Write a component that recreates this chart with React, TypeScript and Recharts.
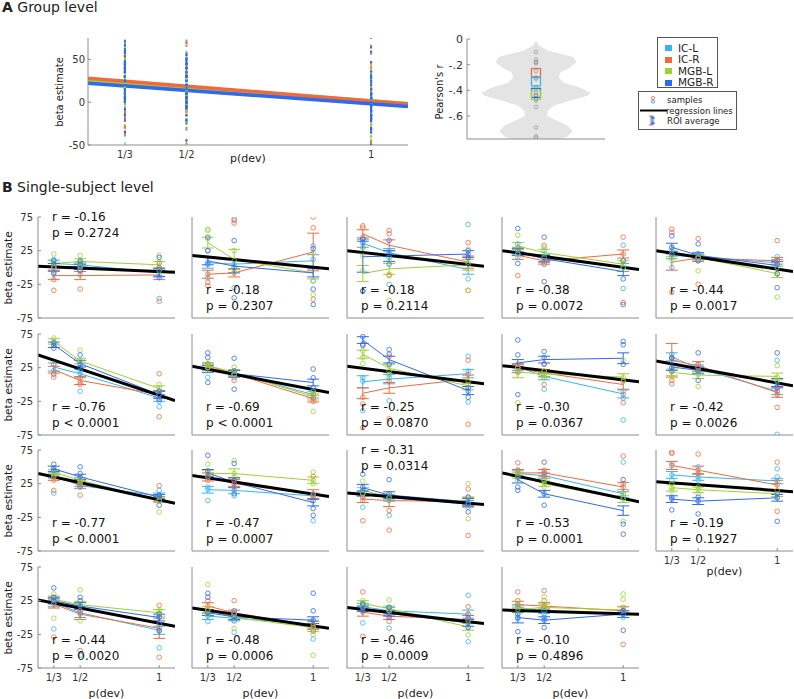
import React from 'react';
import { ComposedChart, Scatter, Line, Area, XAxis, YAxis, ErrorBar } from 'recharts';

const FONT = '"DejaVu Sans", Verdana, sans-serif';
const AXIS = '#8c8c8c';
const TICK_TXT = '#333';

const REGIONS = ['IC-L', 'IC-R', 'MGB-L', 'MGB-R'];
const COLORS = ['#35b5f2', '#f26a3b', '#9fd132', '#2e69ef'];
const P_DEV = [1 / 3, 1 / 2, 1];
const P_DEV_LABELS = ['1/3', '1/2', '1'];
const X_DOMAIN: [number, number] = [0.2333, 1.1];
const Y_TICKS = [-75, -25, 25, 75];
const A_Y_TICKS = [-50, 0, 50];

// group level regression lines (value at left / right edge of the x range)
const A_REG_ICL = [23, -4];
const A_REG_ICR = [28, -2];
const A_REG_MGBL = [26, -1.5];
const A_REG_MGBR = [22, -5];

// violin of single-subject correlations
const SUBJECT_R = [-0.16, -0.18, -0.18, -0.38, -0.44, -0.76, -0.69, -0.25, -0.30, -0.42, -0.77, -0.47, -0.31, -0.53, -0.19, -0.44, -0.48, -0.46, -0.10];
const ROI_R = [-0.33, -0.265, -0.435, -0.42];
const VIOLIN_R = [-0.01, -0.05, -0.09, -0.14, -0.18, -0.22, -0.26, -0.30, -0.34, -0.38, -0.42, -0.44, -0.48, -0.52, -0.56, -0.60, -0.64, -0.68, -0.72, -0.76, -0.78];
const VIOLIN_W = [0, 3, 12, 38, 41, 35, 25, 23, 28, 45, 55, 53, 35, 18, 12, 11, 22, 33, 37, 32, 25];
const R_TICKS = [0, -0.2, -0.4, -0.6];
const R_TICK_LABELS = ['0', '-.2', '-.4', '-.6'];

// single subjects
const R_TEXT = ['-0.16', '-0.18', '-0.18', '-0.38', '-0.44', '-0.76', '-0.69', '-0.25', '-0.30', '-0.42', '-0.77', '-0.47', '-0.31', '-0.53', '-0.19', '-0.44', '-0.48', '-0.46', '-0.10'];
const P_TEXT = ['= 0.2724', '= 0.2307', '= 0.2114', '= 0.0072', '= 0.0017', '< 0.0001', '< 0.0001', '= 0.0870', '= 0.0367', '= 0.0026', '< 0.0001', '= 0.0007', '= 0.0314', '= 0.0001', '= 0.1927', '= 0.0020', '= 0.0006', '= 0.0009', '= 0.4896'];
const TOP_TEXT = [0, 12];

const REG_LINES = [[2, -7], [18, -2], [25, 2], [25, -3], [25, -6], [44, -24], [27, -12], [27, 1], [28, 4], [35, -2], [40, -4], [37, 6], [11, -6], [41, -2], [28, 13], [26, -13], [14, -16], [15, -9], [11, 5]];

const MEAN_ICL = [[6, 4, -8], [7, 5, 10], [36, 22, -3], [25, 14, 0], [18, 16, 7], [26, 16, -20], [25, 17, -15], [4, 8, 16], [26, 12, -14], [41, 24, -10], [37, 22, 7], [16, 15, 7], [10, 4, -5], [40, 37, 10], [38, 35, 29], [22, 7, -19], [2, -1, -10], [16, 10, 5], [15, 10, 5]];
const MEAN_ICR = [[-12, -12, -11], [-10, -8, 23], [50, 33, 8], [18, 10, 20], [8, 14, 10], [22, 6, -15], [28, 16, -21], [-13, -5, 8], [24, 17, 0], [36, 28, -12], [34, 25, 2], [35, 25, 9], [2, 0, -2], [41, 41, 20], [52, 45, 23], [20, 5, -16], [17, 7, -12], [8, 2, -3], [19, 17, 10]];
const MEAN_MGBL = [[6, 9, 4], [37, 12, -8], [-9, -2, 4], [32, 22, 5], [20, 15, -9], [64, 35, -6], [28, 18, -18], [45, 24, -2], [18, 16, 11], [18, 14, 12], [42, 30, 1], [40, 40, 30], [15, 5, -1], [37, 25, 2], [19, 16, 10], [27, 19, 7], [11, 0, -15], [21, 13, -14], [12, 15, 11]];
const MEAN_MGBR = [[1, 1, -7], [10, 2, -8], [16, 17, 20], [23, 13, -6], [30, 18, 3], [59, 31, -15], [23, 16, 3], [66, 37, -9], [32, 37, 39], [26, 21, 3], [47, 35, 5], [41, 27, -3], [19, 8, -2], [31, 10, -15], [2, -1, 4], [25, 17, 0], [7, 1, -4], [13, 6, -8], [0, -4, 5]];

const ERR_ICL = [[5, 4, 6], [8, 7, 9], [6, 6, 7], [5, 5, 6], [5, 4, 5], [6, 6, 5], [4, 4, 5], [9, 7, 6], [5, 5, 6], [6, 5, 5], [4, 4, 4], [5, 5, 4], [4, 5, 5], [4, 4, 6], [5, 5, 4], [6, 7, 6], [5, 4, 6], [5, 5, 6], [4, 4, 5]];
const ERR_ICR = [[6, 6, 7], [6, 6, 28], [6, 8, 9], [6, 5, 6], [12, 5, 5], [5, 6, 6], [4, 5, 5], [8, 8, 6], [6, 5, 7], [25, 6, 7], [4, 4, 4], [6, 6, 7], [5, 9, 7], [5, 5, 7], [6, 6, 7], [6, 8, 15], [5, 4, 6], [6, 5, 6], [5, 5, 6]];
const ERR_MGBL = [[4, 4, 5], [8, 15, 9], [12, 8, 8], [5, 5, 5], [4, 4, 6], [4, 4, 4], [4, 4, 5], [6, 6, 6], [8, 5, 5], [5, 5, 5], [4, 4, 4], [5, 7, 5], [4, 4, 5], [4, 4, 5], [5, 4, 4], [5, 5, 5], [5, 4, 6], [4, 4, 5], [5, 5, 5]];
const ERR_MGBR = [[5, 4, 6], [6, 10, 6], [23, 8, 5], [5, 5, 6], [6, 4, 6], [4, 5, 5], [5, 5, 5], [5, 5, 6], [5, 5, 8], [5, 5, 6], [4, 4, 4], [5, 7, 5], [5, 5, 5], [5, 5, 7], [5, 5, 5], [5, 5, 5], [4, 4, 5], [4, 4, 5], [8, 5, 5]];

const SAMPLES_ICL = [
  [[12, 0, -10], [8, -3, 3], [-46, 0, -12]],
  [[25, -15, 8], [72, -30, 5], [32, 12, -20]],
  [[42, 30, -35], [25, 15, -25], [64, -17, 5]],
  [[35, 20, 15], [25, 10, 5], [33, -31, 0]],
  [[0, 25, 15], [20, 10, 15], [16, 5, 10]],
  [[21, 30, 15], [-10, 16, 20], [-33, -25, -15]],
  [[11, 25, 30], [20, 15, 10], [-15, -10, -20]],
  [[-39, 10, 5], [-24, 10, 15], [42, -26, 20]],
  [[30, 20, 25], [-7, 15, 10], [-53, -20, -10]],
  [[45, 35, 40], [30, 20, 25], [36, -74, -10]],
  [[11, 40, 35], [20, 25, 22], [15, 5, 8]],
  [[0, 16, 20], [7, 15, 20], [-30, 7, 10]],
  [[-10, 10, 5], [-22, 4, 0], [-5, -10, 0]],
  [[40, 35, 45], [37, 40, 30], [57, 10, 5]],
  [[55, 38, 30], [50, 35, 30], [47, 29, 35]],
  [[-17, 22, 25], [-56, 7, 10], [-45, -19, -10]],
  [[-6, 2, 5], [-22, -1, 5], [-32, -10, -20]],
  [[-8, 16, 20], [-16, 10, 15], [33, -36, 5]],
  [[-2, 15, 20], [10, 15, 5], [5, 0, 10]],
];
const SAMPLES_ICR = [
  [[-34, -18, 2], [-32, -10, 0], [-50, 0, 6]],
  [[-27, -22, -10], [70, 66, -8], [75, 59, -47]],
  [[62, 59, 45], [55, 50, -12], [37, -34, 15]],
  [[-12, 25, 30], [33, 10, 5], [45, -52, 20]],
  [[57, 52, -37], [43, -25, 15], [40, 10, 12]],
  [[11, 16, 30], [3, 10, 0], [16, -48, -15]],
  [[31, 28, 25], [6, 20, 15], [-20, -25, -15]],
  [[-19, -29, -64], [41, -51, 5], [36, -59, 15]],
  [[18, 30, 25], [31, 0, 20], [-27, -15, 5]],
  [[6, 1, 40], [30, 25, 20], [-34, -15, -10]],
  [[15, 35, 30], [8, 25, 20], [22, 0, 5]],
  [[30, 35, 38], [25, 30, 20], [36, 9, 5]],
  [[-30, 5, 0], [-44, -15, 5], [-52, 17, -5]],
  [[56, 45, 40], [41, 45, 35], [66, 20, 25]],
  [[72, 70, 52], [69, 45, 40], [57, -16, 23]],
  [[-29, 20, 30], [-49, 5, 10], [18, -59, -16]],
  [[25, 17, 10], [25, 7, 5], [-12, -20, -15]],
  [[38, -28, 8], [-6, 2, 10], [16, -3, 5]],
  [[38, 25, 19], [40, 17, 25], [-40, 10, 15]],
];
const SAMPLES_MGBL = [
  [[20, 10, 0], [18, 8, 2], [18, 8, -5]],
  [[57, 55, 43], [25, -7, 10], [22, -40, -20]],
  [[30, 17, -5], [-49, 10, -10], [27, -34, 8]],
  [[48, 30, 20], [30, 15, 20], [10, 0, 5]],
  [[30, 10, 20], [-5, 20, 15], [-44, -10, 0]],
  [[69, 60, 64], [51, 35, 30], [0, -10, -5]],
  [[30, 25, 28], [26, 15, 20], [-40, -15, -10]],
  [[31, 50, 40], [30, 20, 15], [-5, 5, 0]],
  [[-27, 20, 25], [20, 15, 10], [36, 11, 5]],
  [[11, 20, 25], [-3, 20, 15], [28, 11, 5]],
  [[40, 45, 38], [30, 28, 35], [-17, 0, 5]],
  [[54, 40, 35], [59, 40, 35], [42, 30, 25]],
  [[29, 15, 10], [10, 5, 0], [25, -27, 5]],
  [[37, 40, 30], [25, 20, 30], [-31, 2, 10]],
  [[19, 25, 15], [16, 20, 10], [10, 5, 15]],
  [[-1, 27, 35], [41, -5, 19], [7, 10, 5]],
  [[49, 11, 5], [-16, 0, 5], [-56, -15, -25]],
  [[21, 25, 15], [26, 13, 10], [-26, -14, -5]],
  [[25, 12, 5], [31, 15, 20], [35, 27, 11]],
];
const SAMPLES_MGBR = [
  [[5, -8, 10], [4, -5, 10], [15, -15, -3]],
  [[45, 25, 5], [40, -45, 0], [-55, -32, 28]],
  [[42, 37, -35], [40, 20, 5], [25, 20, 15]],
  [[58, 6, 25], [45, -21, 15], [-17, -55, 10]],
  [[47, 30, 20], [35, 20, 10], [-30, -9, 5]],
  [[54, 62, 58], [44, 30, 25], [-22, -15, -10]],
  [[47, 40, 3], [39, -7, 20], [23, 10, -5]],
  [[71, 58, 60], [52, 45, 30], [-19, -5, -10]],
  [[66, 44, -15], [49, 40, 30], [64, 59, 30]],
  [[39, 25, 20], [47, 6, 20], [47, -5, 0]],
  [[54, 48, 45], [50, 35, 40], [-7, 5, 8]],
  [[67, 44, 35], [55, 10, 30], [-12, -22, 0]],
  [[39, 20, 15], [31, 10, 5], [-17, 5, -5]],
  [[15, 20, 35], [57, -7, 10], [31, -50, -35]],
  [[-14, 2, 5], [-20, -1, 5], [-31, 4, 10]],
  [[44, 25, 30], [30, 17, 25], [-20, 0, 5]],
  [[36, 30, 7], [1, 10, -5], [36, 10, -4]],
  [[13, 20, 10], [6, 15, 0], [-8, -15, 0]],
  [[-21, 0, 5], [-15, -4, 0], [-19, 5, 10]],
];

const MEANS = [MEAN_ICL, MEAN_ICR, MEAN_MGBL, MEAN_MGBR];
const ERRS = [ERR_ICL, ERR_ICR, ERR_MGBL, ERR_MGBR];
const SAMPLES = [SAMPLES_ICL, SAMPLES_ICR, SAMPLES_MGBL, SAMPLES_MGBR];
const A_REG = [A_REG_ICL, A_REG_ICR, A_REG_MGBL, A_REG_MGBR];

const samplesOf = (s: number, k: number) =>
  SAMPLES[k][s].flatMap((vals, j) => vals.map((v) => ({ x: P_DEV[j], y: v })));
const meansOf = (s: number, k: number) =>
  MEANS[k][s].map((m, j) => ({ x: P_DEV[j], y: m, e: ERRS[k][s][j] }));
const lineOf = (pair: number[]) => [
  { x: X_DOMAIN[0], y: pair[0] },
  { x: X_DOMAIN[1], y: pair[1] },
];
const pdevLabel = (v: number) => {
  const i = P_DEV.findIndex((p) => Math.abs(p - v) < 1e-6);
  return i >= 0 ? P_DEV_LABELS[i] : '';
};

const Label = ({ x, y, size, children, rotate, weight }: any) => (
  <div
    style={{
      position: 'absolute',
      left: x,
      top: y,
      fontSize: size,
      fontWeight: weight || 'normal',
      lineHeight: 1,
      whiteSpace: 'nowrap',
      color: '#222',
      transform: `translate(-50%, -50%)${rotate ? ' rotate(-90deg)' : ''}`,
    }}
  >
    {children}
  </div>
);

const hollowCircle = (color: string, r: number) => (p: any) =>
  <circle cx={p.cx} cy={p.cy} r={r} fill="none" stroke={color} strokeWidth={0.8} />;

// ---------- panel A: group level ----------
const GroupPlot = () => {
  const dots = REGIONS.map((_, k) =>
    SAMPLES[k].flatMap((subj) => subj.flatMap((vals, j) => vals.map((v) => ({ x: P_DEV[j], y: v }))))
  );
  const drawOrder = [0, 2, 1, 3];
  return (
    <div style={{ position: 'absolute', left: 48, top: 33 }}>
      <ComposedChart width={362} height={134} margin={{ top: 5, right: 2, bottom: 0, left: 0 }}>
        <XAxis type="number" dataKey="x" domain={X_DOMAIN} ticks={P_DEV} tickFormatter={pdevLabel} allowDataOverflow
          tick={{ fontSize: 10, fill: TICK_TXT }} tickSize={-3} tickMargin={9} height={22} interval={0}
          axisLine={{ stroke: AXIS }} tickLine={{ stroke: AXIS }} />
        <XAxis xAxisId="top" orientation="top" type="number" domain={X_DOMAIN} ticks={P_DEV} tick={false}
          tickSize={-3} height={0} axisLine={{ stroke: AXIS }} tickLine={{ stroke: AXIS }} />
        <YAxis type="number" dataKey="y" domain={[-50, 75]} ticks={A_Y_TICKS} allowDataOverflow interval={0}
          tick={{ fontSize: 10, fill: TICK_TXT }} tickSize={-3} tickMargin={6} width={40}
          axisLine={{ stroke: AXIS }} tickLine={{ stroke: AXIS }} />
        <YAxis yAxisId="right" orientation="right" type="number" domain={[-50, 75]} ticks={A_Y_TICKS} tick={false}
          tickSize={-3} width={0} axisLine={{ stroke: AXIS }} tickLine={{ stroke: AXIS }} />
        {REGIONS.map((_, k) => (
          <Scatter key={'d' + k} data={dots[k]} dataKey="y" isAnimationActive={false}
            shape={(p: any) => <rect x={p.cx - 1} y={p.cy - 1} width={2} height={2} fill={COLORS[k]} />} />
        ))}
        {drawOrder.map((k) => (
          <Line key={'r' + k} data={lineOf(A_REG[k])} dataKey="y" stroke={COLORS[k]} strokeWidth={3.5}
            dot={false} isAnimationActive={false} />
        ))}
      </ComposedChart>
    </div>
  );
};

// ---------- violin of Pearson's r ----------
const ViolinPlot = () => {
  const band = VIOLIN_R.map((r, i) => ({ r, band: [-VIOLIN_W[i], VIOLIN_W[i]] }));
  const pts = SUBJECT_R.map((r) => ({ x: 0, r }));
  const order = [1, 0, 3, 2];
  return (
    <div style={{ position: 'absolute', left: 422, top: 34 }}>
      <ComposedChart layout="vertical" width={188} height={110} margin={{ top: 5, right: 5, bottom: 0, left: 0 }}>
        <XAxis type="number" dataKey="x" domain={[-70, 70]} tick={false} tickLine={false} height={5}
          axisLine={{ stroke: AXIS }} />
        <YAxis type="number" dataKey="r" domain={[-0.78, 0]} ticks={R_TICKS} allowDataOverflow reversed interval={0}
          tickFormatter={(v: number) => R_TICK_LABELS[R_TICKS.findIndex((t) => Math.abs(t - v) < 1e-6)] || ''}
          tick={{ fontSize: 11, fill: TICK_TXT }} tickSize={-3} tickMargin={7} width={45}
          axisLine={{ stroke: AXIS }} tickLine={{ stroke: AXIS }} />
        <Area data={band} dataKey="band" fill="#e4e4e4" fillOpacity={1} stroke="none" isAnimationActive={false} />
        <Scatter data={pts} isAnimationActive={false} shape={hollowCircle('#9a9a9a', 1.8)} />
        {order.map((k) => (
          <Scatter key={'roi' + k} data={[{ x: 0, r: ROI_R[k] }]} isAnimationActive={false}
            shape={(p: any) => (
              <rect x={p.cx - 4.5} y={p.cy - 4.5} width={9} height={9} fill="none" stroke={COLORS[k]} strokeWidth={1.2} />
            )} />
        ))}
      </ComposedChart>
    </div>
  );
};

const Legends = () => (
  <>
    <div style={{ position: 'absolute', left: 657, top: 37, width: 59, height: 49, border: '1px solid #555', background: '#fff' }}>
      {REGIONS.map((name, k) => (
        <div key={name} style={{ position: 'absolute', left: 7, top: 5 + k * 11.5, height: 10, display: 'flex', alignItems: 'center' }}>
          <span style={{ width: 7, height: 6, background: COLORS[k], display: 'inline-block', marginRight: 6 }} />
          <span style={{ fontSize: 10.5, color: '#222', lineHeight: 1 }}>{name}</span>
        </div>
      ))}
    </div>
    <div style={{ position: 'absolute', left: 638, top: 91, width: 97, height: 37, border: '1px solid #555', background: '#fff' }}>
      <svg width={30} height={37} style={{ position: 'absolute', left: 0, top: 0 }}>
        <circle cx={14} cy={6} r={1.6} fill="none" stroke={COLORS[1]} strokeWidth={0.8} />
        <circle cx={14} cy={9.5} r={1.6} fill="none" stroke={COLORS[3]} strokeWidth={0.8} />
        <line x1={1} x2={28} y1={18.5} y2={18.5} stroke="#000" strokeWidth={2} />
        {[COLORS[1], COLORS[0], COLORS[3]].map((c, i) => (
          <g key={i} stroke={c} strokeWidth={1}>
            <line x1={12 + i} x2={12 + i} y1={24} y2={33} />
            <line x1={10 + i} x2={14 + i} y1={24 + i} y2={24 + i} />
            <line x1={10 + i} x2={14 + i} y1={33 - i} y2={33 - i} />
          </g>
        ))}
      </svg>
      {['samples', 'regression lines', 'ROI average'].map((t, i) => (
        <div key={t} style={{ position: 'absolute', left: i === 1 ? 27 : 28, top: [3, 14, 24][i], fontSize: 8.5, lineHeight: '10px', color: '#222', whiteSpace: 'nowrap' }}>
          {t}
        </div>
      ))}
    </div>
  </>
);

// ---------- panel B: single subjects ----------
const PLOT_W = 137;
const PLOT_H = 101;
const Y_AX_W = 30;
const M_TOP = 4;
const X_AX_H = 22;
const COL_LEFT = [38, 192, 347, 502, 656];
const ROW_TOP = [217, 334, 450, 567];

const SubjectPlot = ({ s }: { s: number }) => {
  const col = s % 5;
  const row = Math.floor(s / 5);
  const left = COL_LEFT[col];
  const top = ROW_TOP[row];
  const bottom = top + PLOT_H;
  const showX = row === 3 || s === 14;
  const showY = col === 0;
  const textTop = TOP_TEXT.includes(s) ? top - 8 : bottom - 36;
  return (
    <>
      <div style={{ position: 'absolute', left: left - Y_AX_W, top: top - M_TOP }}>
        <ComposedChart width={Y_AX_W + PLOT_W + 1} height={M_TOP + PLOT_H + X_AX_H}
          margin={{ top: M_TOP, right: 1, bottom: 0, left: 0 }}>
          <XAxis type="number" dataKey="x" domain={X_DOMAIN} ticks={P_DEV} tickFormatter={pdevLabel} allowDataOverflow
            tick={showX ? { fontSize: 10, fill: TICK_TXT } : false} tickSize={-3} tickMargin={9} height={X_AX_H} interval={0}
            axisLine={{ stroke: AXIS }} tickLine={{ stroke: AXIS }} />
          <YAxis type="number" dataKey="y" domain={[-75, 75]} ticks={Y_TICKS} allowDataOverflow interval={0}
            tick={showY ? { fontSize: 10, fill: TICK_TXT } : false} tickSize={-3} tickMargin={8} width={Y_AX_W}
            axisLine={{ stroke: AXIS }} tickLine={{ stroke: AXIS }} />
          {REGIONS.map((_, k) => (
            <Scatter key={'s' + k} data={samplesOf(s, k)} dataKey="y" isAnimationActive={false}
              shape={hollowCircle(COLORS[k], 2.3)} />
          ))}
          {REGIONS.map((_, k) => (
            <Line key={'m' + k} data={meansOf(s, k)} dataKey="y" stroke={COLORS[k]} strokeWidth={1}
              dot={false} isAnimationActive={false}>
              <ErrorBar dataKey="e" width={6} stroke={COLORS[k]} strokeWidth={1} direction="y" />
            </Line>
          ))}
          <Line data={lineOf(REG_LINES[s])} dataKey="y" stroke="#000" strokeWidth={3} dot={false}
            isAnimationActive={false} />
        </ComposedChart>
      </div>
      <div style={{ position: 'absolute', left: left + 14, top: textTop, fontSize: 12, lineHeight: '16px', color: '#111', whiteSpace: 'pre' }}>
        {`r = ${R_TEXT[s]}\np ${P_TEXT[s]}`}
      </div>
      {showY && <Label x={8} y={top + PLOT_H / 2} size={10.5} rotate>beta estimate</Label>}
      {showX && <Label x={left + PLOT_W / 2} y={bottom + (row === 3 ? 25 : 20)} size={11}>p(dev)</Label>}
    </>
  );
};

export default function App() {
  return (
    <div style={{ position: 'absolute', left: 0, top: 0, width: 794, height: 699, overflow: 'hidden', background: '#fff', fontFamily: FONT }}>
      <div style={{ position: 'absolute', left: 2, top: -1, fontSize: 14, whiteSpace: 'nowrap', color: '#222' }}>
        <b>A</b> Group level
      </div>
      <GroupPlot />
      <Label x={60} y={92} size={10} rotate>beta estimate</Label>
      <Label x={248} y={158} size={11}>p(dev)</Label>
      <ViolinPlot />
      <Label x={440} y={92} size={10} rotate>Pearson's r</Label>
      <Legends />
      <div style={{ position: 'absolute', left: 2, top: 179, fontSize: 14, whiteSpace: 'nowrap', color: '#222' }}>
        <b>B</b> Single-subject level
      </div>
      {R_TEXT.map((_, s) => (
        <SubjectPlot key={s} s={s} />
      ))}
    </div>
  );
}
